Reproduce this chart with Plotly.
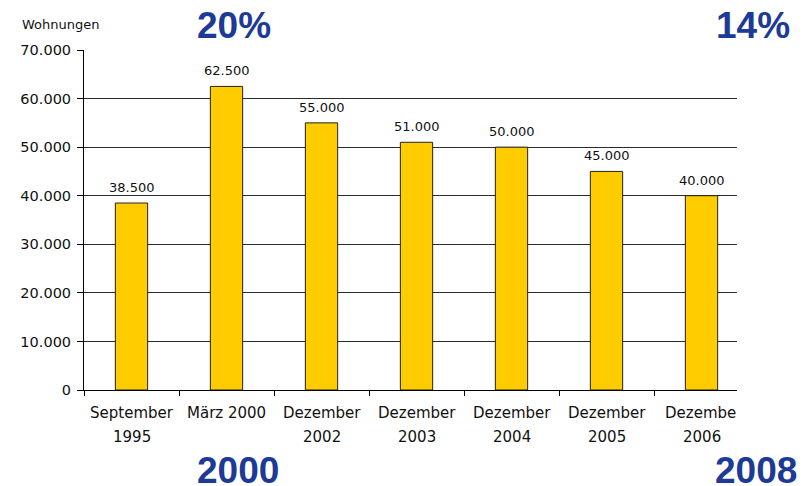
import plotly.graph_objects as go

categories = ["September 1995", "März 2000", "Dezember 2002", "Dezember 2003",
              "Dezember 2004", "Dezember 2005", "Dezember 2006"]
label_line1 = ["September", "März 2000", "Dezember", "Dezember", "Dezember", "Dezember", "Dezembe"]
label_line2 = ["1995", "", "2002", "2003", "2004", "2005", "2006"]
values = [38500, 62500, 55000, 51000, 50000, 45000, 40000]
value_labels = ["38.500", "62.500", "55.000", "51.000", "50.000", "45.000", "40.000"]
y_tickvals = [0, 10000, 20000, 30000, 40000, 50000, 60000, 70000]
y_ticktext = ["0", "10.000", "20.000", "30.000", "40.000", "50.000", "60.000", "70.000"]

BLUE = "#1C3A96"
FONT = "DejaVu Sans"
TXT = "#111111"

# page body has an 8px margin; plot area in screen pixels: x 84..749, y 50..390
PX0, PX1, PY0, PY1 = 84, 749, 50, 390
CLIP_X = 737  # reference chart is clipped on the right at this pixel


def px_to_paper(x, y):
    return (x - PX0) / (PX1 - PX0), (PY1 - y) / (PY1 - PY0)


fig = go.Figure()
fig.add_trace(go.Bar(
    x=categories, y=values,
    marker=dict(color="#FFCC00", line=dict(color="#222222", width=1)),
    width=0.34,
))

for c, v, t in zip(categories, values, value_labels):
    fig.add_annotation(x=c, y=v, text=t, showarrow=False, yanchor="bottom", yshift=6,
                       font=dict(family=FONT, size=13, color=TXT))

last = len(categories) - 1
for i, (c, l1, l2) in enumerate(zip(categories, label_line1, label_line2)):
    if i == last:
        # clipped label: left-aligned so that it starts where the full word would
        fig.add_annotation(x=c, y=0, yref="paper", text=l1, showarrow=False, yanchor="middle",
                           xanchor="left", xshift=-39, yshift=-23,
                           font=dict(family=FONT, size=15, color=TXT))
    else:
        fig.add_annotation(x=c, y=0, yref="paper", text=l1, showarrow=False, yanchor="middle",
                           yshift=-23, font=dict(family=FONT, size=15, color=TXT))
    if l2:
        fig.add_annotation(x=c, y=0, yref="paper", text=l2, showarrow=False, yanchor="middle",
                           yshift=-47, font=dict(family=FONT, size=15, color=TXT))

# cover the right part of the top gridline
gx, _ = px_to_paper(177, 0)
cx, _ = px_to_paper(CLIP_X, 0)
fig.add_shape(type="rect", xref="paper", yref="paper", x0=gx, x1=1.05, y0=0.985, y1=1.015,
              fillcolor="white", line=dict(width=0), layer="above")
# clip the right edge of the chart
fig.add_shape(type="rect", xref="paper", yref="paper", x0=cx, x1=1.05, y0=-0.03, y1=1.02,
              fillcolor="white", line=dict(width=0), layer="above")

big = dict(family="Liberation Sans", size=37, color=BLUE)
for txt, x, y in [("20%", 234, 25), ("14%", 753, 25), ("2000", 238, 470), ("2008", 756, 470)]:
    px, py = px_to_paper(x, y)
    fig.add_annotation(x=px, y=py, xref="paper", yref="paper", text=f"<b>{txt}</b>",
                       showarrow=False, xanchor="center", yanchor="middle", font=big)

wx, wy = px_to_paper(20, 24)
fig.add_annotation(x=wx, y=wy, xref="paper", yref="paper", text="Wohnungen",
                   showarrow=False, xanchor="left", yanchor="middle",
                   font=dict(family=FONT, size=13, color=TXT))

fig.update_layout(
    width=800, height=478,
    margin=dict(l=PX0 - 8, r=808 - PX1, t=PY0 - 8, b=486 - PY1, autoexpand=False),
    paper_bgcolor="white", plot_bgcolor="white",
    showlegend=False,
    bargap=0.66,
    font=dict(family=FONT, size=15, color=TXT),
)
fig.update_xaxes(
    type="category", showline=True, linecolor="#000000", linewidth=1,
    ticks="outside", tickson="boundaries", ticklen=5, tickcolor="#000000",
    showgrid=False, showticklabels=False,
)
fig.update_yaxes(
    range=[0, 70000], tickvals=y_tickvals, ticktext=y_ticktext,
    showline=True, linecolor="#000000", linewidth=1,
    ticks="outside", ticklen=6, tickcolor="#000000", ticklabelstandoff=3,
    showgrid=True, gridcolor="#2a2a2a", gridwidth=1, zeroline=False,
    tickfont=dict(family=FONT, size=14.5, color=TXT),
)

fig.write_html("out.html")
